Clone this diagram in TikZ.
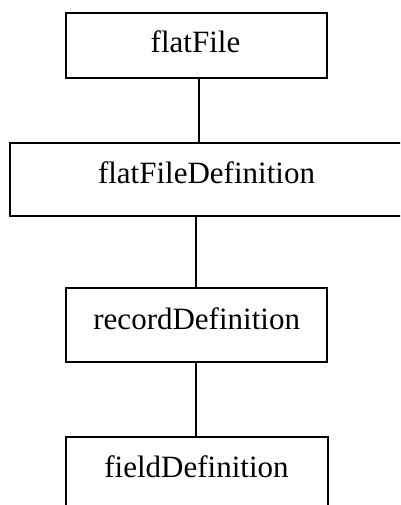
\documentclass[tikz,border=0pt]{standalone}
\usepackage{fontspec}
\setmainfont{Liberation Serif}
\begin{document}
\begin{tikzpicture}[x=1pt,y=-1pt,
  box/.style={draw, line width=1.6pt, inner sep=0pt, outer sep=0pt},
  openbox/.style={inner sep=0pt, outer sep=0pt},
  lbl/.style={anchor=base, inner sep=0pt, font=\fontsize{31}{37}\selectfont},
  conn/.style={line width=1.6pt}]
\useasboundingbox (0,0) rectangle (400,505);
\clip (0,0) rectangle (400,505);
\node[box, minimum width=261pt, minimum height=65pt] (ff) at (196.5,45.5) {};
\node[box, minimum width=400pt, minimum height=73pt] (ffd) at (210,179.5) {};
\node[box, minimum width=261pt, minimum height=74pt] (rd) at (196.5,325) {};
\node[openbox, minimum width=262pt, minimum height=76pt] (fd) at (197,475) {};
\draw[conn] (fd.south west) -- (fd.north west) -- (fd.north east) -- (fd.south east);
\node[lbl] (tff) at (195.5,53) {flatFile};
\node[lbl] (tffd) at (206.5,183) {flatFileDefinition};
\node[lbl] (trd) at (196.7,329) {recordDefinition};
\node[lbl] (tfd) at (196.5,477) {fieldDefinition};
\draw[conn] ([xshift=2.5pt]ff.south) -- ([xshift=2.5pt]ff.south |- ffd.north);
\draw[conn] ([xshift=-0.5pt]rd.north |- ffd.south) -- ([xshift=-0.5pt]rd.north);
\draw[conn] ([xshift=-0.5pt]rd.south) -- ([xshift=-0.5pt]rd.south |- fd.north);
\end{tikzpicture}
\end{document}
